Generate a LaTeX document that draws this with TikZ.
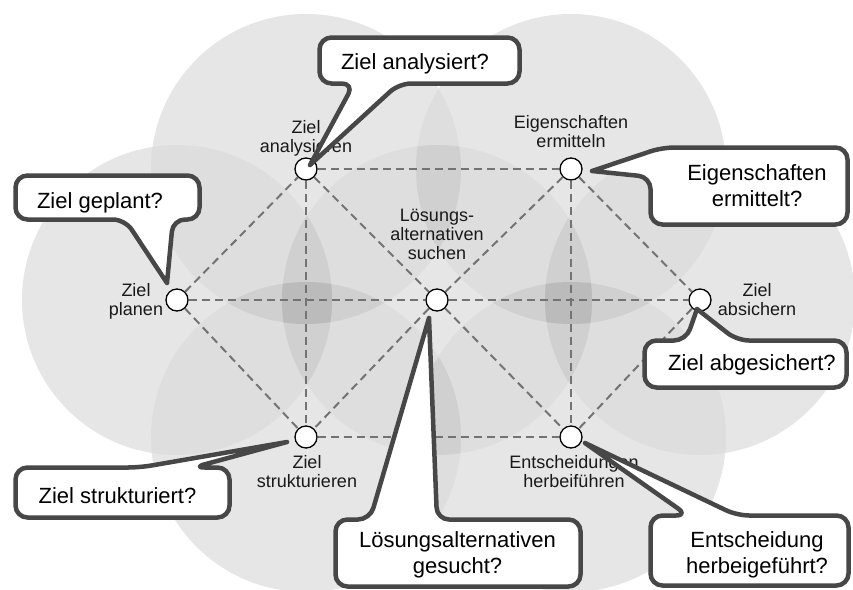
\documentclass[tikz,border=0pt]{standalone}
\usepackage{fontspec}
\setmainfont{Liberation Sans}
\usetikzlibrary{calc}

\begin{document}
\begin{tikzpicture}[x=1pt,y=-1pt,
  petal/.style={fill={rgb,255:red,230;green,230;blue,230}},
  overlap/.style={fill=black, fill opacity=0.03},
  link/.style={draw=black!55, line width=2pt, dash pattern=on 8pt off 5pt},
  stage/.style={circle, draw=black, line width=1.3pt, fill=white, minimum size=22pt, inner sep=0pt},
  stagelabel/.style={align=center, inner sep=0pt, text=black!90, font=\fontsize{18}{19}\selectfont},
  bubble/.style={draw=black!72, fill=white, line width=4.5pt, rounded corners=12pt, line join=round, line cap=round},
  bubbletext/.style={align=center, inner sep=0pt, font=\fontsize{22}{26}\selectfont},
]
\useasboundingbox (0,0) rectangle (853,589);
\fill[white] (0,0) rectangle (853,589);

% centres of the shaded circles behind the process stages
\coordinate (p1) at (306,169);
\coordinate (p2) at (571,169);
\coordinate (p3) at (177,300);
\coordinate (p4) at (437,300);
\coordinate (p5) at (700,300);
\coordinate (p6) at (306,437);
\coordinate (p7) at (571,437);

% light grey disks, slightly darker where two of them overlap
\foreach \i in {1,...,7}
  \fill[petal] (p\i) circle[radius=155pt];
\foreach \i in {1,...,7}{
  \foreach \j in {1,...,7}{
    \ifnum\j>\i
      \begin{scope}
        \clip (p\i) circle[radius=155pt];
        \fill[overlap] (p\j) circle[radius=155pt];
      \end{scope}
    \fi
  }
}

% process stages
\node[stage] (za) at (306,169) {};
\node[stage] (ee) at (571,169) {};
\node[stage] (zp) at (177,300) {};
\node[stage] (ls) at (437,300) {};
\node[stage] (zs) at (700,300) {};
\node[stage] (zt) at (306,437) {};
\node[stage] (eh) at (571,437) {};

% dashed links between stages
\draw[link] (za) -- (ee);
\draw[link] (zt) -- (eh);
\draw[link] (zp) -- (ls);
\draw[link] (ls) -- (zs);
\draw[link] (zp) -- (za);
\draw[link] (zp) -- (zt);
\draw[link] (za) -- (zt);
\draw[link] (ee) -- (eh);
\draw[link] (za) -- (ls);
\draw[link] (ls) -- (eh);
\draw[link] (ee) -- (ls);
\draw[link] (ls) -- (zt);
\draw[link] (ee) -- (zs);
\draw[link] (zs) -- (eh);

% stage labels
\node[stagelabel, anchor=base] (za-l) at (306,152) {Ziel\\analysieren};
\node[stagelabel, anchor=base] (ee-l) at (571,147.5) {Eigenschaften\\ermitteln};
\node[stagelabel, anchor=base] (ls-l) at (437,259) {Lösungs-\\alternativen\\suchen};
\node[stagelabel, anchor=base] (zp-l) at (136,315) {Ziel\\planen};
\node[stagelabel, anchor=base] (zs-l) at (757,315) {Ziel\\absichern};
\node[stagelabel, anchor=base] (zt-l) at (307,487) {Ziel\\strukturieren};
\node[stagelabel, anchor=base] (eh-l) at (574,487) {Entscheidungen\\herbeiführen};

% speech bubbles with their questions
\draw[bubble] ($(za)+(4,-4)$) -- (354,83.5) -- (319.5,83.5) -- (319.5,37.5) -- (519.5,37.5) -- (519.5,83.5) -- (399,83.5) -- ($(za)+(4,-4)$);
\node[bubbletext, anchor=base] (qa) at (415,69) {Ziel analysiert?};

\draw[bubble] ($(zp)+(-10,-17)$) -- (125,219.5) -- (15.5,219.5) -- (15.5,175.5) -- (199.5,175.5) -- (199.5,219.5) -- (173,219.5) -- ($(zp)+(-10,-17)$);
\node[bubbletext, anchor=base] (qp) at (100,208) {Ziel geplant?};

\draw[bubble] ($(ee)+(21,2)$) -- (662,147.5) -- (847.5,147.5) -- (847.5,224.5) -- (650.5,224.5) -- (650.5,177) -- ($(ee)+(21,2)$);
\node[bubbletext, anchor=base] (qe) at (757,206) {Eigenschaften\\ermittelt?};

\draw[bubble] ($(zs)+(-3,9)$) -- (737,340.5) -- (846.5,340.5) -- (846.5,387.5) -- (644.5,387.5) -- (644.5,340.5) -- (686,340.5) -- ($(zs)+(-3,9)$);
\node[bubbletext, anchor=base] (qs) at (752,370) {Ziel abgesichert?};

\draw[bubble] ($(eh)+(14,6)$) -- (737,515.5) -- (848.5,515.5) -- (848.5,585.5) -- (650.5,585.5) -- (650.5,515.5) -- (688,515.5) -- ($(eh)+(14,6)$);
\node[bubbletext, anchor=base] (qh) at (757,573) {Entscheidung\\herbeigeführt?};

\draw[bubble] ($(ls)+(-8,18)$) -- (437,519.5) -- (580.5,519.5) -- (580.5,586.5) -- (335.5,586.5) -- (335.5,519.5) -- (370,519.5) -- ($(ls)+(-8,18)$);
\node[bubbletext, anchor=base] (ql) at (457.5,573) {Lösungsalternativen\\gesucht?};

\draw[bubble] ($(zt)+(-19,5)$) -- (193,467.5) -- (229.5,467.5) -- (229.5,517.5) -- (15.5,517.5) -- (15.5,467.5) -- (140,467.5) -- ($(zt)+(-19,5)$);
\node[bubbletext, anchor=base] (qt) at (117.5,503) {Ziel strukturiert?};
\end{tikzpicture}
\end{document}
